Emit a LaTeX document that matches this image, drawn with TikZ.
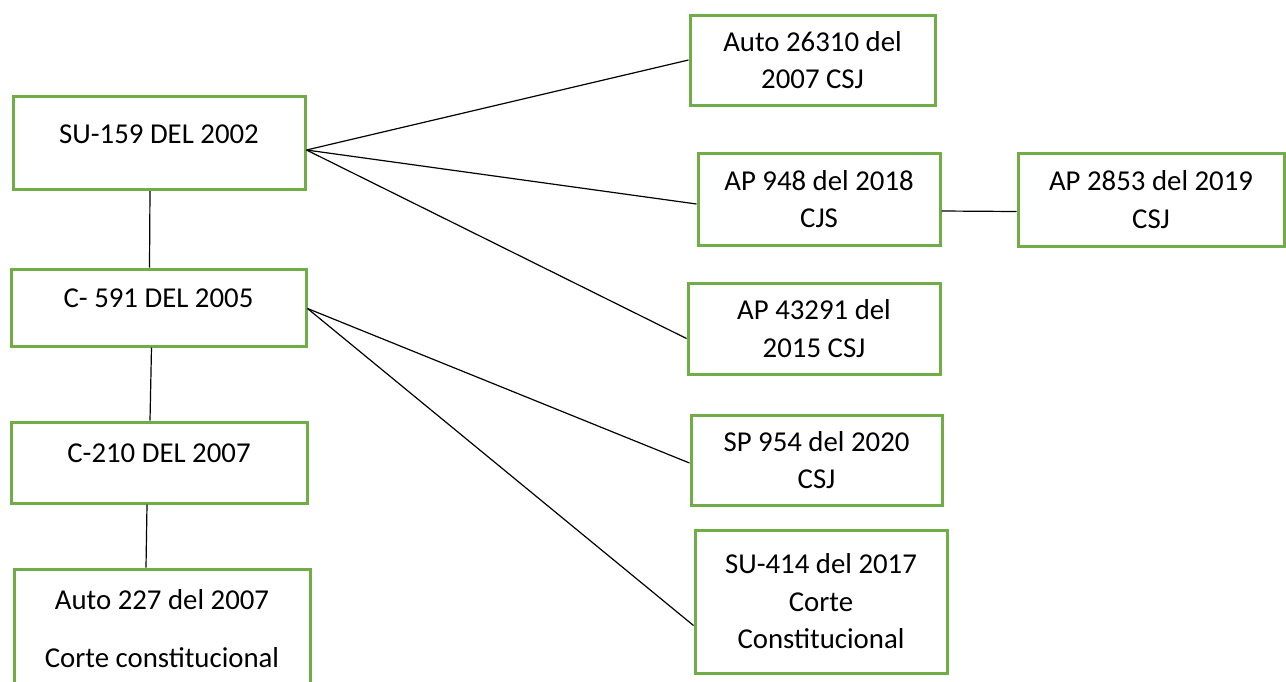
\documentclass[tikz,border=0pt]{standalone}
\usepackage{fontspec}
\setmainfont{Carlito}
\usepackage{tikz}
\usetikzlibrary{positioning}
\definecolor{boxgreen}{HTML}{70AD47}

\begin{document}
\begin{tikzpicture}[
    x=0.5pt, y=-0.5pt,
    box/.style={rectangle, draw=boxgreen, line width=1.5pt, fill=white, align=center, inner sep=0pt, font=\fontsize{14.4}{18.75}\selectfont},
    single/.style={text height=10pt, text depth=10pt},
    link/.style={draw=black, line width=0.6pt}
]
\useasboundingbox (0,0) rectangle (1286,681);

% left column
\node[box, single, minimum width=146pt, minimum height=46.5pt] (su159) at (159,143) {SU-159 DEL 2002};
\node[box, single, minimum width=147.5pt, minimum height=38.5pt] (c591) at (158.5,307.5) {C- 591 DEL 2005};
\node[box, single, minimum width=148pt, minimum height=40.5pt] (c210) at (159,462.5) {C-210 DEL 2007};
\node[box, minimum width=148pt, minimum height=60pt] (auto227) at (162,629) {Auto 227 del 2007\\[10.25pt]Corte constitucional};

% right column
\node[box, minimum width=122.5pt, minimum height=45pt] (auto26310) at (812.5,60) {Auto 26310 del\\2007 CSJ};
\node[box, minimum width=121pt, minimum height=46pt] (ap948) at (819,199) {AP 948 del 2018\\CJS};
\node[box, minimum width=133pt, minimum height=46.5pt] (ap2853) at (1151,199.5) {AP 2853 del 2019\\CSJ};
\node[box, minimum width=126pt, minimum height=45.5pt] (ap43291) at (814,328.5) {AP 43291 del\\2015 CSJ};
\node[box, minimum width=125.5pt, minimum height=45pt] (sp954) at (816.5,460) {SP 954 del 2020\\CSJ};
\node[box, minimum width=126pt, minimum height=71.5pt] (su414) at (821,601.5) {SU-414 del 2017\\Corte\\Constitucional};

% hubs
\coordinate (hubsu) at ([yshift=-3.5pt]su159.east);
\coordinate (hubc) at ([yshift=-0.5pt]c591.east);

\draw[link] (hubsu) -- (auto26310.west);
\draw[link] (hubsu) -- ([yshift=-2.5pt]ap948.west);
\draw[link] (hubsu) -- ([yshift=-5pt]ap43291.west);
\draw[link] ([yshift=-6pt]ap948.east) -- ([yshift=-6pt]ap2853.west);
\draw[link] (hubc) -- ([yshift=-1.5pt]sp954.west);
\draw[link] (hubc) -- ([yshift=-12pt]su414.west);

\draw[link] ([xshift=-4.5pt]su159.south) -- ([xshift=-4.5pt]c591.north);
\draw[link] ([xshift=-3.5pt]c591.south) -- ([xshift=-4.5pt]c210.north);
\draw[link] ([xshift=-6pt]c210.south) -- ([xshift=-8pt]auto227.north);

\end{tikzpicture}
\end{document}
